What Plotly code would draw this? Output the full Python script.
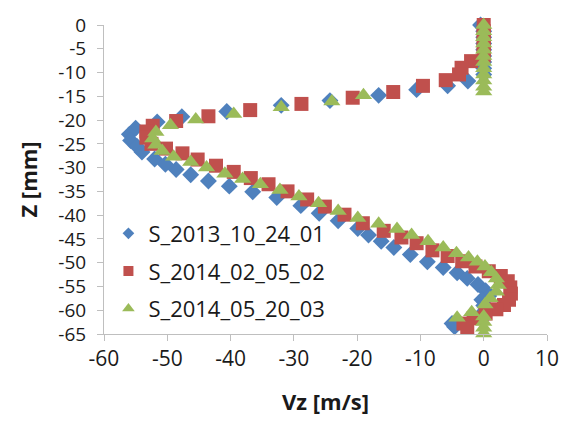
import plotly.graph_objects as go

# ---- data ----
series_names = ["S_2013_10_24_01", "S_2014_02_05_02", "S_2014_05_20_03"]

vz_s1 = [-0.5, 0, 0, 0, 0, 0, 0, 0, 0, -2.5, -5.7, -10.6, -16.6, -24.3, -32.0, -40.6,
         -47.7, -51.6, -55.0, -56.0, -55.8, -54.8, -54.0, -52.0, -50.3, -48.6, -46.3,
         -43.5, -40.2, -36.5, -32.7, -28.9, -26.0, -23.0, -19.9, -18.2, -16.2, -14.2,
         -11.6, -8.9, -6.4, -4.2, -2.6, -0.9, 0.3, 0.8, -0.3, 0, 0, 0, -5.0, -4.6]
z_s1 = [0, -1.3, -2.6, -3.9, -5.2, -6.5, -7.8, -9.1, -10.4, -11.8, -12.8, -13.6, -14.8,
        -15.9, -16.9, -18.2, -19.3, -20.4, -21.7, -23.0, -24.3, -25.5, -26.7, -28.2,
        -29.3, -30.4, -31.5, -32.8, -33.9, -35.1, -36.3, -38.0, -39.6, -41.2, -42.8,
        -44.2, -45.5, -46.8, -48.3, -49.8, -51.0, -52.1, -53.3, -54.6, -55.9, -57.0,
        -57.8, -59.0, -60.3, -61.4, -62.8, -63.5]

vz_s2 = [0, 0, 0, 0, 0, 0, -2.0, -3.5, -3.9, -6.0, -9.6, -14.3, -20.7, -28.8, -36.9,
         -43.5, -48.6, -52.3, -53.3, -53.3, -52.5, -50.2, -47.6, -45.2, -42.3, -39.5,
         -36.8, -34.0, -31.0, -27.9, -25.1, -22.0, -19.1, -15.8, -13.0, -10.6, -8.1,
         -5.7, -3.4, -1.3, 0.8, 2.7, 3.8, 4.2, 4.3, 4.0, 3.2, 2.0, 0.3, -1.6, -3.2, -2.6]
z_s2 = [0, -1.3, -2.6, -3.9, -5.2, -6.4, -7.6, -9.0, -10.4, -11.6, -12.8, -14.1, -15.3,
        -16.6, -17.9, -19.2, -20.2, -21.2, -22.4, -23.7, -25.0, -26.0, -27.0, -28.3,
        -29.6, -30.9, -32.2, -33.5, -35.0, -36.7, -38.2, -39.9, -41.7, -43.3, -44.7,
        -45.9, -47.4, -48.6, -49.7, -50.8, -51.8, -52.8, -53.9, -55.2, -56.5, -57.8,
        -58.9, -59.8, -60.7, -61.7, -62.8, -63.6]

vz_s3 = [0, 0, 0, 0, 0, 0, 0, 0, 0, 0, 0, 0, -19.0, -24.0, -32.0, -39.5, -45.5, -49.5,
         -51.8, -52.3, -51.8, -50.8, -49.0, -46.3, -43.8, -40.9, -38.1, -35.3, -32.2,
         -29.2, -26.1, -23.0, -19.9, -16.6, -13.7, -11.4, -8.8, -6.4, -4.3, -2.4, -1.0,
         0.2, 1.2, 2.0, 2.3, 2.0, 1.0, 0.2, -1.9, -4.2, 0, 0, 0, 0]
z_s3 = [0, -1.3, -2.6, -3.9, -5.2, -6.5, -7.8, -9.1, -10.4, -11.7, -13.0, -14.0, -14.8,
        -16.1, -17.3, -18.7, -19.9, -21.1, -22.5, -23.9, -25.2, -26.5, -27.7, -28.8,
        -30.0, -31.3, -32.4, -33.5, -34.7, -36.1, -37.5, -39.1, -40.6, -41.8, -42.9,
        -44.2, -45.5, -46.8, -48.0, -48.9, -49.8, -50.8, -52.0, -53.3, -54.7, -56.1,
        -57.5, -58.8, -60.4, -61.6, -61.3, -62.5, -63.7, -64.9]

x_ticks = [-60, -50, -40, -30, -20, -10, 0, 10]
y_ticks = [0, -5, -10, -15, -20, -25, -30, -35, -40, -45, -50, -55, -60, -65]

colors = ["#4F81BD", "#C0504D", "#9BBB59"]
symbols = ["diamond", "square", "triangle-up"]
sizes = [13, 14, 15]
legend_sizes = [9, 10, 11]
FONT = "Open Sans"
TXT = "#1a1a1a"

fig = go.Figure()
data = [(vz_s1, z_s1), (vz_s2, z_s2), (vz_s3, z_s3)]
for i, (vx, zz) in enumerate(data):
    fig.add_trace(go.Scatter(
        x=vx, y=zz, mode="markers", name=series_names[i],
        marker=dict(symbol=symbols[i], size=sizes[i], color=colors[i], line=dict(width=0)),
        showlegend=False, cliponaxis=False, legendgroup=series_names[i]))
# legend proxies (small legend symbols)
for i in range(3):
    fig.add_trace(go.Scatter(
        x=[None], y=[None], mode="markers", name=series_names[i],
        marker=dict(symbol=symbols[i], size=legend_sizes[i], color=colors[i], line=dict(width=0)),
        showlegend=True, legendgroup=series_names[i]))

axis_col = "#BFBFBF"
fig.update_layout(
    width=571, height=426,
    margin=dict(l=104, r=14, t=20, b=92),
    paper_bgcolor="white", plot_bgcolor="white",
    font=dict(family=FONT, size=21, color=TXT),
    showlegend=True,
    legend=dict(x=0.01, y=0.393, xanchor="left", yanchor="top",
                bgcolor="rgba(0,0,0,0)", borderwidth=0,
                traceorder="grouped", tracegroupgap=6,
                font=dict(family=FONT, size=22, color=TXT)),
    xaxis=dict(range=[-60, 10], tickvals=x_ticks, ticktext=[str(t) for t in x_ticks],
               showgrid=False, zeroline=False, showline=True, linecolor=axis_col, linewidth=1,
               ticks="outside", ticklen=6, tickcolor=axis_col,
               tickfont=dict(family=FONT, size=21, color=TXT),
               title=dict(text="<b>Vz [m/s]</b>", font=dict(family=FONT, size=22, color=TXT),
                          standoff=23)),
    yaxis=dict(range=[-65, 0], tickvals=y_ticks, ticktext=[str(t) for t in y_ticks],
               showgrid=False, zeroline=False, showline=True, linecolor=axis_col, linewidth=1,
               ticks="outside", ticklen=6, tickcolor=axis_col, ticklabelstandoff=7,
               tickfont=dict(family=FONT, size=19, color=TXT),
               title=dict(text="<b>Z [mm]</b>", font=dict(family=FONT, size=22, color=TXT),
                          standoff=14)),
)

fig.write_html("out.html", config={"displayModeBar": False},
               post_script="document.body.style.margin='0';document.body.style.padding='0';")
